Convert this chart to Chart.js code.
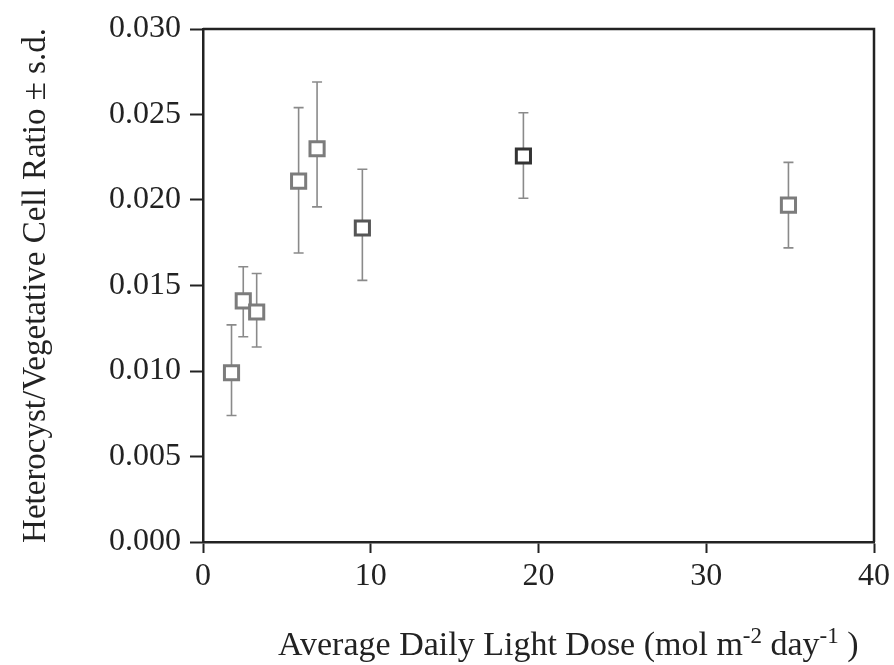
<!DOCTYPE html>
<html>
<head>
<meta charset="utf-8">
<script src="https://cdn.jsdelivr.net/npm/chart.js@4.4.1/dist/chart.umd.min.js"></script>
<style>
  html, body { margin: 0; padding: 0; background: #fff; }
  #wrap { width: 894px; height: 665px; position: relative; }
</style>
</head>
<body>
<div id="wrap"><canvas id="ratioChart"></canvas></div>
<script>
// light dose (mol m-2 day-1) and heterocyst ratio, with s.d. bar ends
const lightDose = [1.7, 2.4, 3.2, 5.7, 6.8, 9.5, 19.1, 34.9];
const cellRatio = [0.0099, 0.0141, 0.01345, 0.0211, 0.0230, 0.01836, 0.02257, 0.0197];
const barLow  = [0.0074, 0.0120, 0.0114, 0.0169, 0.0196, 0.0153, 0.0201, 0.0172];
const barHigh = [0.0127, 0.0161, 0.0157, 0.0254, 0.0269, 0.0218, 0.0251, 0.0222];
const xTicks = [0, 10, 20, 30, 40];
const yTicks = [0, 0.005, 0.010, 0.015, 0.020, 0.025, 0.030];

const serif = '"Liberation Serif", "Times New Roman", serif';

const points = lightDose.map((x, i) => ({ x: x, y: cellRatio[i] }));

// vertical s.d. bars with short caps, drawn under the squares
const errorBars = {
  id: 'errorBars',
  beforeDatasetsDraw(chart) {
    const { ctx, scales: { x, y } } = chart;
    ctx.save();
    ctx.strokeStyle = '#8a8a8a';
    ctx.lineWidth = 1.6;
    lightDose.forEach((d, i) => {
      const px = x.getPixelForValue(d);
      const top = y.getPixelForValue(barHigh[i]);
      const bot = y.getPixelForValue(barLow[i]);
      ctx.beginPath();
      ctx.moveTo(px, top); ctx.lineTo(px, bot);
      ctx.moveTo(px - 5, top); ctx.lineTo(px + 5, top);
      ctx.moveTo(px - 5, bot); ctx.lineTo(px + 5, bot);
      ctx.stroke();
    });
    ctx.restore();
  }
};

// closes the box on top and right, and writes the x title with superscripts
const frameAndTitle = {
  id: 'frameAndTitle',
  afterDraw(chart) {
    const { ctx, chartArea: a } = chart;
    ctx.save();
    ctx.strokeStyle = '#222';
    ctx.lineWidth = 2.5;
    ctx.beginPath();
    ctx.moveTo(a.left, a.top);
    ctx.lineTo(a.right, a.top);
    ctx.lineTo(a.right, a.bottom);
    ctx.stroke();

    const parts = [
      ['Average Daily Light Dose (mol m', 34, 0],
      ['-2', 23, -12],
      [' day', 34, 0],
      ['-1', 23, -12],
      [' )', 34, 0]
    ];
    ctx.fillStyle = '#222';
    ctx.textBaseline = 'alphabetic';
    ctx.textAlign = 'left';
    let px = 278;
    const base = 655;
    parts.forEach(([t, s, dy]) => {
      ctx.font = s + 'px ' + serif;
      ctx.fillText(t, px, base + dy);
      px += ctx.measureText(t).width;
    });
    ctx.restore();
  }
};

new Chart(document.getElementById('ratioChart'), {
  type: 'scatter',
  data: {
    datasets: [{
      data: points,
      pointStyle: 'rect',
      pointRadius: 10,
      pointHoverRadius: 10,
      pointBorderWidth: 3,
      pointBackgroundColor: '#ffffff',
      pointBorderColor: ['#7c7c7c', '#7c7c7c', '#7c7c7c', '#7c7c7c', '#7c7c7c', '#555555', '#333333', '#7c7c7c']
    }]
  },
  options: {
    responsive: true,
    maintainAspectRatio: false,
    animation: false,
    layout: { padding: { top: 29, right: 19, left: 0, bottom: 0 } },
    plugins: {
      legend: { display: false },
      tooltip: { enabled: false }
    },
    scales: {
      x: {
        type: 'linear',
        min: 0,
        max: 40,
        afterBuildTicks: s => { s.ticks = xTicks.map(v => ({ value: v })); },
        afterFit: s => { s.height = 123; },
        border: { display: true, color: '#222', width: 2.5 },
        grid: { drawOnChartArea: false, drawTicks: true, tickLength: 11, tickWidth: 2, tickColor: '#222' },
        ticks: { color: '#222', padding: 4, font: { family: serif, size: 32 } }
      },
      y: {
        type: 'linear',
        min: 0,
        max: 0.03,
        afterBuildTicks: s => { s.ticks = yTicks.map(v => ({ value: v })); },
        afterFit: s => { s.width = 203; },
        border: { display: true, color: '#222', width: 2.5 },
        grid: { drawOnChartArea: false, drawTicks: true, tickLength: 13, tickWidth: 2, tickColor: '#222' },
        ticks: {
          color: '#222',
          padding: 9,
          font: { family: serif, size: 32 },
          callback: v => v.toFixed(3)
        },
        title: {
          display: true,
          text: 'Heterocyst/Vegetative Cell Ratio \u00b1 s.d.',
          color: '#222',
          font: { family: serif, size: 33 },
          padding: { top: 17, bottom: 0 }
        }
      }
    }
  },
  plugins: [errorBars, frameAndTitle]
});
</script>
</body>
</html>
